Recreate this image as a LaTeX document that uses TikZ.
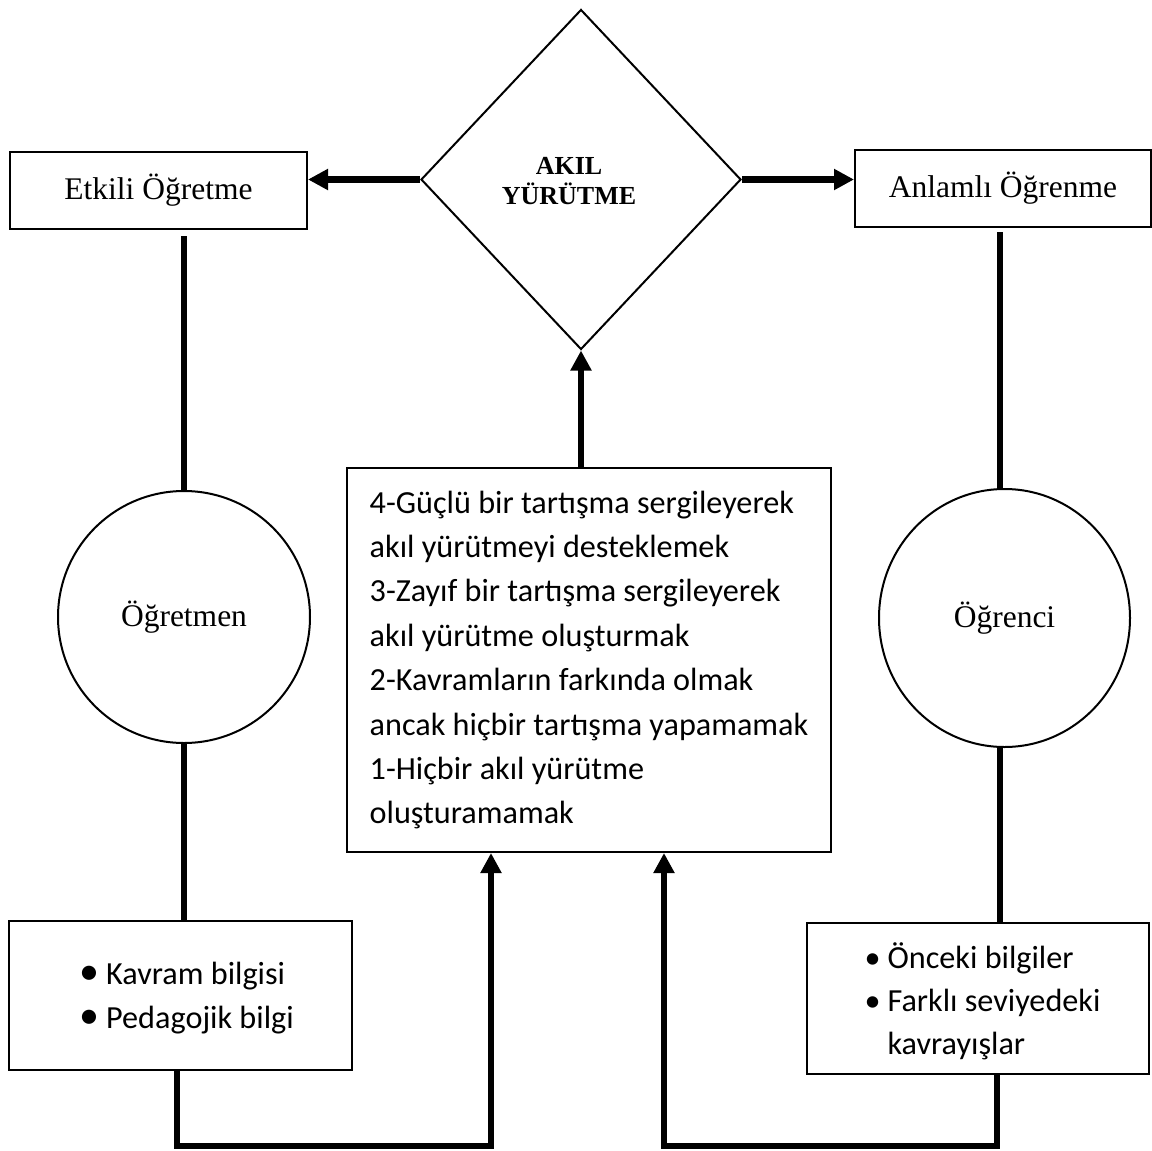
\documentclass[tikz,border=0pt]{standalone}
\usepackage{fontspec}
\setmainfont{Liberation Serif}
\newfontfamily\calibrifont{Carlito}
\usetikzlibrary{shapes.geometric,arrows.meta,calc}

\begin{document}
\begin{tikzpicture}[x=1pt,y=-1pt,
  box/.style={draw,line width=2pt,rectangle,inner sep=0pt},
  title/.style={font=\fontsize{31.5}{38}\selectfont},
  listtext/.style={font=\calibrifont\fontsize{32.2}{44.4}\selectfont},
  link/.style={line width=6.5pt},
  flow/.style={line width=6.5pt,-{Triangle[length=20pt,width=20pt]}},
]
\path[use as bounding box,fill=white] (0,0) rectangle (1152,1151);

% top row: outcomes and the reasoning diamond
\node[box,title,minimum width=297pt,minimum height=77pt] (etk) at (158.5,190.5) {Etkili Öğretme};
\node[box,title,minimum width=296pt,minimum height=77pt] (anl) at (1003,188.5) {Anlamlı Öğrenme};
\node[draw,line width=2pt,diamond,minimum width=320pt,minimum height=340pt,inner sep=0pt] (dia) at (581,179.5) {};
\node[font=\bfseries\fontsize{26}{30}\selectfont,align=center] (dtext) at (569,181) {AKIL\\YÜRÜTME};

% actors
\node[draw,line width=2pt,circle,minimum size=252pt,inner sep=0pt,title] (ogm) at (184,617) {Öğretmen};
\node[draw,line width=2pt,ellipse,minimum width=251pt,minimum height=258pt,inner sep=0pt,title] (ogc) at (1004.5,618) {Öğrenci};

% levels of reasoning
\node[box,listtext,align=left,minimum width=484pt,minimum height=384pt] (lev) at (589,660)
  {4-Güçlü bir tartışma sergileyerek\\
   akıl yürütmeyi desteklemek\\
   3-Zayıf bir tartışma sergileyerek\\
   akıl yürütme oluşturmak\\
   2-Kavramların farkında olmak\\
   ancak hiçbir tartışma yapamamak\\
   1-Hiçbir akıl yürütme\\
   oluşturamamak};

% knowledge boxes
\node[box,listtext,minimum width=343pt,minimum height=149pt] (kb) at (180.5,995.5)
  {\begin{tabular}{@{\hspace{12pt}}c@{\hspace{7pt}}l@{}}
   {\fontsize{40}{44.4}\selectfont\textbullet}\rule{0pt}{35pt} & Kavram bilgisi\\
   {\fontsize{40}{44.4}\selectfont\textbullet} & Pedagojik bilgi
   \end{tabular}};
\node[box,listtext,minimum width=342pt,minimum height=151pt] (ob) at (978,998.5)
  {\begin{tabular}{@{\hspace{9pt}}c@{\hspace{7pt}}l@{}}
   \textbullet\rule{0pt}{40pt} & Önceki bilgiler\\[-1.5pt]
   \textbullet & Farklı seviyedeki\\[-1.5pt]
   & kavrayışlar
   \end{tabular}};

% arrows out of the diamond
\draw[flow] (dia.west) -- (dia.west -| etk.east);
\draw[flow] (dia.east) -- (dia.east -| anl.west);
\draw[flow] (lev.north -| dia.south) -- (dia.south);

% left column
\coordinate (lx) at (184,0);
\draw[link] ($(etk.south -| lx)+(0,6)$) -- (lx |- ogm.north);
\draw[link] (lx |- ogm.south) -- (lx |- kb.north);
\coordinate (kbend) at (177,1146);
\coordinate (lin) at (491,1146);
\draw[flow] (kbend |- kb.south) -- (kbend) -- (lin) -- (lin |- lev.south);

% right column
\coordinate (rx) at (1000,0);
\draw[link] ($(anl.south -| rx)+(0,4)$) -- (rx |- ogc.north);
\draw[link] (rx |- ogc.south) -- (rx |- ob.north);
\coordinate (rbend) at (997,1146);
\coordinate (rin) at (664,1146);
\draw[flow] (rbend |- ob.south) -- (rbend) -- (rin) -- (rin |- lev.south);
\end{tikzpicture}
\end{document}
